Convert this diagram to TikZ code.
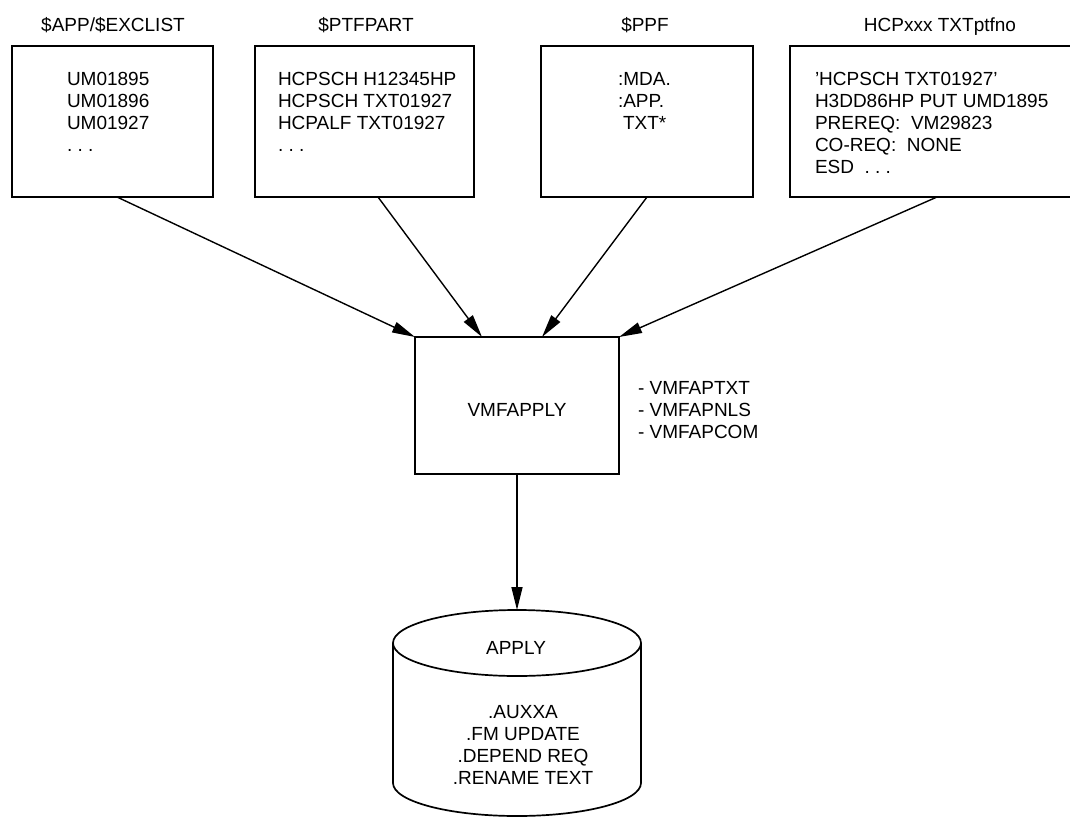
\documentclass[tikz,border=0pt]{standalone}
\usepackage{fontspec}
\setmainfont{Liberation Sans}
\usetikzlibrary{arrows.meta}
\begin{document}
\begin{tikzpicture}[x=1pt,y=-1pt,
  every node/.style={font=\fontsize{19}{22}\selectfont, inner sep=0pt, outer sep=0pt},
  filebox/.style={draw, line width=1.7pt, minimum height=151pt},
  title/.style={anchor=base},
  listing/.style={align=left, anchor=north west},
  flow/.style={line width=1.4pt, -{Triangle[length=23pt,width=11pt]}},
  cyl/.style={line width=1.7pt},
]
\useasboundingbox (0,0) rectangle (1070,816);

% input files
\node[filebox, minimum width=201pt] (b1) at (112.5,121.5) {};
\node[filebox, minimum width=219pt] (b2) at (364.5,121.5) {};
\node[filebox, minimum width=212pt] (b3) at (647,121.5) {};
\node[filebox, minimum width=300pt] (b4) at (940,121.5) {};

\node[title] (l1) at (113,32) {\$APP/\$EXCLIST};
\node[title] (l2) at (366,32) {\$PTFPART};
\node[title] (l3) at (645,32) {\$PPF};
\node[title] (l4) at (940,32) {HCPxxx TXTptfno};

\node[listing] (t1) at (67,72) {UM01895\\UM01896\\UM01927\\.\ .\ .};
\node[listing] (t2) at (278,72) {HCPSCH H12345HP\\HCPSCH TXT01927\\HCPALF TXT01927\\.\ .\ .};
\node[listing] (t3) at (618,72) {:MDA.\\:APP.\\\hspace*{5pt}TXT*};
\node[listing] (t4) at (815,72) {’HCPSCH TXT01927’\\H3DD86HP PUT UMD1895\\PREREQ:\ \ VM29823\\CO-REQ:\ \ NONE\\ESD\ \ .\ .\ .};

% apply program
\node[draw, line width=1.7pt, minimum width=204pt, minimum height=137pt,
      text height=22.6pt, text depth=0pt] (vmf) at (517,405.5) {VMFAPPLY};
\node[listing] (parts) at (638,381) {- VMFAPTXT\\- VMFAPNLS\\- VMFAPCOM};

% data base
\coordinate (cyltop) at (517,610);
\draw[cyl] (393,643) -- (393,783) arc[start angle=180, end angle=0, x radius=124, y radius=33] -- (641,643);
\draw[cyl] (517,643) ellipse [x radius=124, y radius=33];
\node[title] (apply) at (516,654) {APPLY};
\node[align=center, anchor=north] (steps) at (523,705) {.AUXXA\\.FM UPDATE\\.DEPEND REQ\\.RENAME TEXT};

% connectors
\draw[flow] ([xshift=4.5pt]b1.south) -- (vmf.north west);
\draw[flow] ([xshift=13.5pt]b2.south) -- ([xshift=-35pt]vmf.north);
\draw[flow] (b3.south) -- ([xshift=25pt]vmf.north);
\draw[flow] ([xshift=-3pt]b4.south) -- (vmf.north east);
\draw[flow] (vmf.south) -- (cyltop);
\end{tikzpicture}
\end{document}
